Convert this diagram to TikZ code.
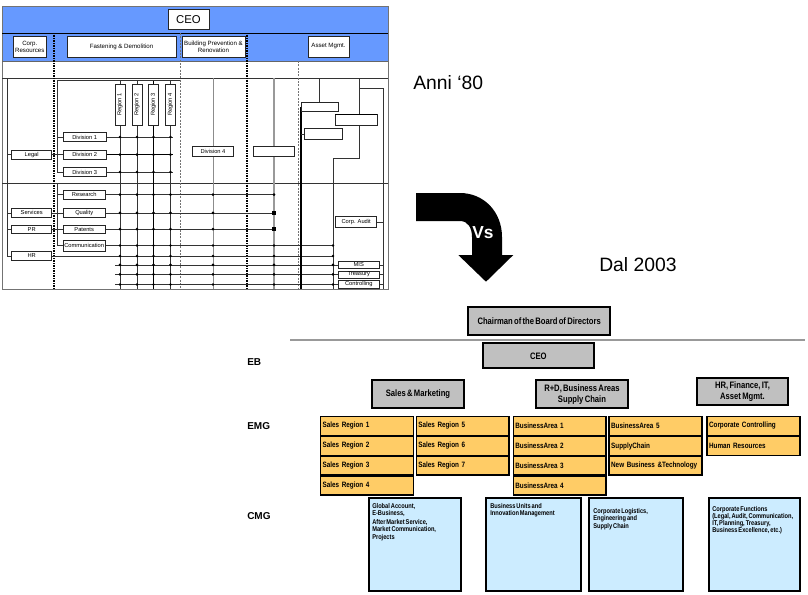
\documentclass[tikz,border=0pt]{standalone}
\usepackage{fontspec}
\setmainfont{Liberation Sans}
\newfontfamily\narrowfont[FakeStretch=0.82, WordSpace=0.6]{Liberation Sans}
\usetikzlibrary{backgrounds}
\definecolor{hdrblue}{RGB}{102,153,255}
\definecolor{boxgray}{RGB}{192,192,192}
\definecolor{orangebox}{RGB}{255,204,102}
\definecolor{cmgblue}{RGB}{204,236,255}
\tikzset{
  sz/.style 2 args={minimum width=#1*0.75pt, minimum height=#2*0.75pt},
  oldbox/.style={draw=black!85, fill=white, line width=0.45pt, inner sep=0pt, outer sep=0pt, align=center, font=\fontsize{4.3}{4.9}\selectfont},
  hdrbox/.style={oldbox, font=\fontsize{4.6}{5.4}\selectfont},
  regbox/.style={oldbox, rotate=90},
  thinln/.style={line width=0.45pt, draw=black!80},
  boldln/.style={line width=1pt, draw=black},
  grayln/.style={line width=0.5pt, draw=black!45},
  grayboldln/.style={line width=1.1pt, draw=black!40},
  darkdots/.style={line width=0.8pt, draw=black, dash pattern=on 0.75pt off 0.5pt},
  lightdash/.style={line width=0.4pt, draw=black!55, dash pattern=on 1.5pt off 1pt},
  newbox/.style={draw=black, line width=1.3pt, fill=boxgray, inner sep=0pt, outer sep=0pt, align=center, font=\narrowfont\bfseries\fontsize{7}{8.4}\selectfont},
  orbox/.style={draw=black, line width=1.2pt, fill=orangebox, inner sep=1.5pt, outer sep=0pt, text width=66.5pt, minimum height=14.25pt, align=left, font=\narrowfont\bfseries\fontsize{5.8}{7}\selectfont},
  cmgbox/.style={draw=black, line width=1.3pt, fill=cmgblue, inner sep=0pt, outer sep=0pt},
  cmgtext/.style={anchor=north west, inner sep=0pt, align=left, font=\narrowfont\bfseries\fontsize{5.2}{5.2}\selectfont},
  lvl/.style={anchor=base west, inner sep=0pt, font=\bfseries\fontsize{7.5}{9}\selectfont},
  bigtxt/.style={anchor=base west, inner sep=0pt, font=\fontsize{14.5}{16}\selectfont}
}
\begin{document}
\begin{tikzpicture}[x=0.75pt,y=-0.75pt]
\useasboundingbox (0,0) rectangle (808,594);

% ---------- helper coordinates ----------
\coordinate (yTop) at (0,78);
\coordinate (yTopIn) at (0,80);
\coordinate (yMid) at (0,183);
\coordinate (yBot) at (0,289);
\coordinate (xL) at (7,0);
\coordinate (xIn) at (57,0);
\coordinate (x180) at (180,0);
\coordinate (xDivEnd) at (173,0);
\coordinate (x333) at (333,0);
\coordinate (x359) at (359.3,0);
\coordinate (x383) at (383,0);
\coordinate (xLow) at (115,0);
\coordinate (bendA) at (359.3,158.3);
\coordinate (bendB) at (359.3,88.3);

% ---------- old chart nodes ----------
\node[oldbox, sz={41}{20}, font=\fontsize{8.5}{9}\selectfont] (ceoold) at (188.5,19.5) {CEO};
\node[hdrbox, sz={33.5}{21}] (corp) at (29.8,46.5) {Corp.\\Resources};
\node[hdrbox, sz={109}{21}] (fast) at (121.5,46.5) {Fastening \& Demolition};
\node[hdrbox, sz={63}{21}] (build) at (213.5,46.5) {Building Prevention \&\\Renovation};
\node[hdrbox, sz={41}{21}] (asset) at (328.5,46.5) {Asset Mgmt.};

\node[regbox, sz={41}{10}] (r1) at (120,104.5) {Region 1};
\node[regbox, sz={41}{10}] (r2) at (137,104.5) {Region 2};
\node[regbox, sz={41}{10}] (r3) at (153.5,104.5) {Region 3};
\node[regbox, sz={41}{10}] (r4) at (170.5,104.5) {Region 4};

\node[oldbox, sz={42.7}{9.4}] (div1) at (84.7,137) {Division 1};
\node[oldbox, sz={42.7}{9.4}] (div2) at (84.7,154.7) {Division 2};
\node[oldbox, sz={42.7}{9.4}] (div3) at (84.7,172) {Division 3};
\node[oldbox, sz={40}{9.4}] (legal) at (31.7,154.7) {Legal};
\node[oldbox, sz={41}{9.7}] (div4) at (213,151) {Division 4};
\node[oldbox, sz={40.7}{9.7}] (emptyb) at (274,151) {};

\node[oldbox, sz={41.7}{9.4}] (research) at (84.2,194.7) {Research};
\node[oldbox, sz={41.7}{9.4}] (quality) at (84.2,212.8) {Quality};
\node[oldbox, sz={41.7}{8.4}] (patents) at (84.2,229.2) {Patents};
\node[oldbox, sz={41.7}{11}] (comm) at (84.2,245.5) {Communication};
\node[oldbox, sz={40}{9}] (services) at (31.7,212.8) {Services};
\node[oldbox, sz={40}{8.4}] (pr) at (31.7,229.2) {PR};
\node[oldbox, sz={40}{9}] (hr) at (31.7,256) {HR};

\node[oldbox, sz={37}{9.4}] (am1) at (319.5,107) {};
\node[oldbox, sz={41.7}{11.4}] (am2) at (356,120) {};
\node[oldbox, sz={38.7}{11}] (am3) at (323.3,133.8) {};
\node[oldbox, sz={41}{11}] (audit) at (356.2,222.2) {Corp. Audit};
\node[oldbox, sz={41}{7}] (mis) at (358.8,264.8) {MIS};
\node[oldbox, sz={41}{7}] (treasury) at (358.8,274.3) {Treasury};
\node[oldbox, sz={41}{7.5}] (controlling) at (358.8,284.5) {Controlling};
\draw[boldln] (am2.north west) -- (am2.north east);

% ---------- old chart lines ----------
\begin{scope}[on background layer]
\fill[hdrblue] (2,6) rectangle (388,61);
\draw[black!55,line width=0.5pt] (2,6) rectangle (388,289);
\draw[black,line width=0.6pt] (2,33) -- (388,33);
\draw[black!60,line width=0.4pt] (2,61) -- (388,61);
\draw[thinln] (2,78) -- (388,78);
\draw[thinln] (2,183) -- (388,183);
\draw[darkdots] (54,33) -- (54,289);
\draw[darkdots] (247,33) -- (247,289);
\draw[lightdash] (180,33) -- (180,289);
\draw[lightdash] (298,61) -- (298,289);

% region verticals
\draw[thinln] (r1 |- yTopIn) -- (r1 |- yBot);
\draw[thinln] (r2 |- yTopIn) -- (r2 |- yBot);
\draw[boldln] (r3 |- yTopIn) -- (r3 |- yBot);
\draw[thinln] (r4 |- yTopIn) -- (r4 |- yBot);
\draw[grayln] (div4 |- yTop) -- (div4 |- yBot);
\draw[grayboldln] (emptyb |- yTop) -- (emptyb |- yBot);

% brackets left
\draw[thinln] (xL |- yTop) -- (xL |- yMid);
\draw[thinln] (legal.west) -- (legal -| xL);
\draw[thinln] (xL |- yMid) -- (xL |- hr) -- (hr.west);
\draw[thinln] (services.west) -- (services -| xL);
\draw[thinln] (pr.west) -- (pr -| xL);
\draw[thinln] (x180 |- yTopIn) -- (xIn |- yTopIn) -- (xIn |- div3) -- (div3.west);
\draw[thinln] (div1.west) -- (div1 -| xIn);
\draw[thinln] (div2.west) -- (div2 -| xIn);
\draw[thinln] (xIn |- yMid) -- (xIn |- comm) -- (comm.west);
\draw[thinln] (research.west) -- (research -| xIn);
\draw[thinln] (quality.west) -- (quality -| xIn);
\draw[thinln] (patents.west) -- (patents -| xIn);
\draw[thinln] (legal.east) -- (div2.west);
\draw[thinln] (services.east) -- (quality.west);
\draw[thinln] (pr.east) -- (patents.west);

% division lines
\draw[thinln] (div1.east) -- (div1 -| xDivEnd);
\draw[boldln] (div2.east) -- (div2 -| xDivEnd);
\draw[thinln] (div3.east) -- (div3 -| xDivEnd);
\draw[thinln] (research.east) -- (research -| emptyb);
\draw[thinln] (quality.east) -- (quality -| emptyb);
\draw[thinln] (patents.east) -- (patents -| emptyb);
\draw[thinln] (comm.east) -- (comm -| x333);
\draw[thinln] (hr.east) -- (hr -| x333);
\draw[thinln] (mis -| xLow) -- (mis.west);
\draw[thinln] (treasury -| xLow) -- (treasury.west);
\draw[thinln] (controlling -| xLow) -- (controlling.west);

% asset management part
\draw[thinln] (am1 |- yTop) -- (am1.north);
\draw[boldln] (am1.west) -- (am1.west |- yBot);
\draw[thinln] (am3.west) -- (am3 -| am1.west);
\draw[thinln] (x359 |- yTop) -- (x359 |- am2.north);
\draw[thinln] (x359 |- am2.south) -- (bendA) -- (bendA -| x333) -- (x333 |- yBot);
\draw[thinln] (bendB) -- (bendB -| x383) -- (x383 |- yBot);
\draw[thinln] (audit.east) -- (audit -| x383);
\draw[thinln] (mis.east) -- (mis -| x383);
\draw[thinln] (treasury.east) -- (treasury -| x383);
\draw[thinln] (controlling.east) -- (controlling -| x383);
\end{scope}

% junction dots
\foreach \l in {div1,div2,div3,research,quality,patents,comm,hr,mis,treasury,controlling}
  \foreach \r in {r1,r2,r3,r4}
    \fill (\l -| \r) circle[radius=1.1pt];
\foreach \l in {research,quality,patents,comm,hr,mis,treasury,controlling}
  \fill (\l -| div4) circle[radius=1.1pt];
\foreach \l in {research,comm,hr,mis,treasury,controlling}
  \fill (\l -| emptyb) circle[radius=1.1pt];
\foreach \l in {quality,patents}
  \fill ([xshift=-1.3pt,yshift=-1.3pt]\l -| emptyb) rectangle ++(2.6pt,2.6pt);
\foreach \l in {comm,hr,mis,treasury,controlling}
  \fill (\l -| x333) circle[radius=1.1pt];

% ---------- titles and arrow ----------
\node[bigtxt] (anni) at (413,89.3) {Anni ‘80};
\node[bigtxt] (dal) at (599,271.7) {Dal 2003};
\fill[black] (416,193) -- (460,193) .. controls (484,193) and (502,212) .. (502,237)
  -- (502,255) -- (513.3,255) -- (486,281.7) -- (458.3,255) -- (472,255) -- (472,237)
  .. controls (472,228) and (468,221) .. (460,221) -- (416,221) -- cycle;
\node[font=\bfseries\fontsize{13}{14}\selectfont, text=white, inner sep=0pt] (vs) at (483,232.5) {Vs};

% ---------- new chart ----------
\coordinate (sepL) at (290,340);
\coordinate (sepR) at (805,340);
\draw[black!40, line width=1.5pt] (sepL) -- (sepR);
\node[newbox, sz={141.7}{27.7}] (chair) at (539.2,321.2) {Chairman of the Board of Directors};
\node[newbox, sz={111.3}{25}] (ceonew) at (538.4,355.8) {CEO};
\node[newbox, sz={92.6}{28.3}] (sm) at (418,394.2) {Sales \& Marketing};
\node[newbox, sz={92.6}{28.3}] (rd) at (582,394.2) {R+D, Business Areas\\Supply Chain};
\node[newbox, sz={91.6}{27}] (hrf) at (742.5,391.5) {HR, Finance, IT,\\Asset Mgmt.};

\node[lvl] (eb) at (247,365.5) {EB};
\node[lvl] (emg) at (247,429.5) {EMG};
\node[lvl] (cmg) at (247,519.5) {CMG};

\node[orbox] (sr1) at (367,426) {Sales Region 1};
\node[orbox] (sr2) at (367,446) {Sales Region 2};
\node[orbox] (sr3) at (367,465.5) {Sales Region 3};
\node[orbox] (sr4) at (367,485.3) {Sales Region 4};
\node[orbox] (sr5) at (462.7,426) {Sales Region 5};
\node[orbox] (sr6) at (462.7,446) {Sales Region 6};
\node[orbox] (sr7) at (462.7,465.5) {Sales Region 7};
\node[orbox] (ba1) at (559.7,426) {BusinessArea 1};
\node[orbox] (ba2) at (559.7,446) {BusinessArea 2};
\node[orbox] (ba3) at (559.7,465.5) {BusinessArea 3};
\node[orbox] (ba4) at (559.7,485.3) {BusinessArea 4};
\node[orbox] (ba5) at (655.5,426) {BusinessArea 5};
\node[orbox] (sc) at (655.5,446) {SupplyChain};
\node[orbox] (nbt) at (655.5,465.5) {\mbox{New Business \&Technology}};
\node[orbox] (cc) at (753.4,426) {Corporate Controlling};
\node[orbox] (hum) at (753.4,446) {Human Resources};

\node[cmgbox, sz={92}{93}] (c1) at (415,544.5) {};
\node[cmgbox, sz={95}{93}] (c2) at (533.5,544.5) {};
\node[cmgbox, sz={94}{93}] (c3) at (636,544.5) {};
\node[cmgbox, sz={91}{93}] (c4) at (754.5,544.5) {};
\node[cmgtext] (c1t) at (372,503.5) {Global Account,\\E-Business,\\[1.3pt]After Market Service,\\Market Communication,\\[1.3pt]Projects};
\node[cmgtext] (c2t) at (490,503.5) {Business Units and\\Innovation Management};
\node[cmgtext] (c3t) at (593,508) {Corporate Logistics,\\[0.5pt]Engineering and\\[0.5pt]Supply Chain};
\node[cmgtext] (c4t) at (712,506.5) {Corporate Functions\\(Legal, Audit, Communication,\\IT, Planning, Treasury,\\Business Excellence, etc.)};
\end{tikzpicture}
\end{document}
